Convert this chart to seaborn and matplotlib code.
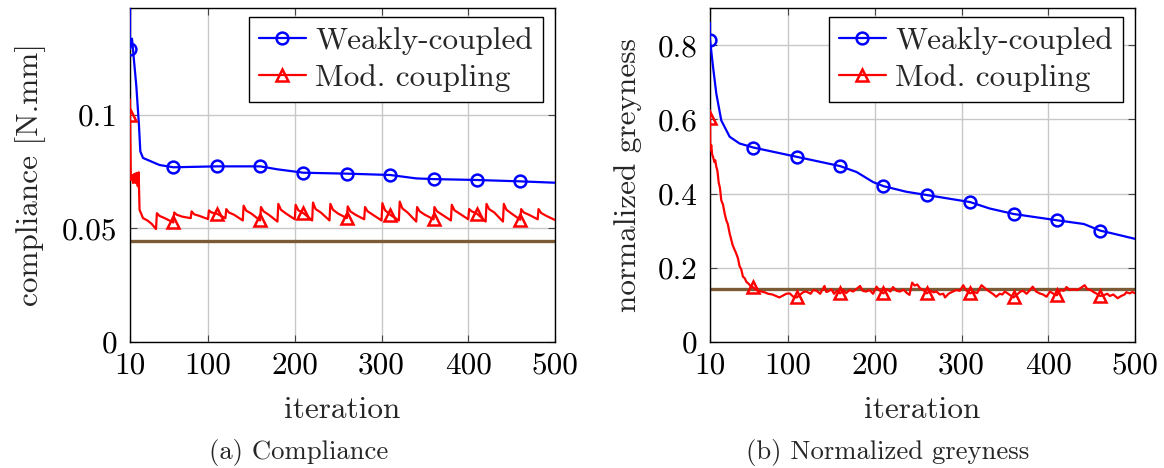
import numpy as np
import pandas as pd
import matplotlib
matplotlib.use("Agg")
import matplotlib.pyplot as plt
from matplotlib.lines import Line2D
import seaborn as sns

# ---------------- data ----------------
x_ticks = [10, 100, 200, 300, 400, 500]
mark_iters = [10, 60, 110, 160, 210, 260, 310, 360, 410, 460]

# (a) compliance
comp_weak_iter = [10, 10, 12.3, 17.3, 20.4, 21.9, 25, 44, 60, 110, 160, 180, 210, 260, 310, 340, 360, 410, 460, 500]
comp_weak_val = [0.160, 0.129, 0.1335, 0.1126, 0.0949, 0.0839, 0.0810, 0.0779, 0.0769, 0.0773, 0.0773, 0.0760,
                 0.0745, 0.0741, 0.0735, 0.0720, 0.0717, 0.0713, 0.0707, 0.0701]

comp_mod_iter = [10, 10, 11, 12.5, 13.5, 15, 16, 17.3, 18.5, 19.2, 20, 21, 25, 30, 35, 40,
                 41, 44, 50, 60, 61, 64, 70, 80, 81, 84, 90, 100, 101, 104, 110, 120, 121, 124, 130, 140,
                 141, 144, 150, 160, 161, 164, 170, 180, 181, 184, 190, 200, 201, 204, 210, 220, 221, 224, 230, 240,
                 241, 244, 250, 260, 261, 264, 270, 280, 281, 284, 290, 300, 301, 304, 310, 320, 321, 324, 330, 340,
                 341, 344, 350, 360, 361, 364, 370, 380, 381, 384, 390, 400, 401, 404, 410, 420, 421, 424, 430, 440,
                 441, 444, 450, 460, 461, 464, 470, 480, 481, 484, 490, 500]
comp_mod_val = [0.1067, 0.100, 0.0714, 0.0735, 0.0700, 0.0740, 0.0700, 0.0744, 0.0690, 0.0685, 0.0747, 0.0582,
                0.0545, 0.0535, 0.0520, 0.0497,
                0.0567, 0.0555, 0.0545, 0.0526, 0.0570, 0.0560, 0.0552, 0.0545, 0.0575, 0.0562, 0.0555, 0.0541,
                0.0579, 0.0570, 0.0565, 0.0545, 0.0585, 0.0570, 0.0560, 0.0535,
                0.0600, 0.0578, 0.0565, 0.0535, 0.0594, 0.0575, 0.0560, 0.0530, 0.0608, 0.0582, 0.0565, 0.0540,
                0.0604, 0.0580, 0.0567, 0.0535, 0.0614, 0.0585, 0.0570, 0.0535,
                0.0608, 0.0582, 0.0565, 0.0545, 0.0597, 0.0575, 0.0560, 0.0540, 0.0594, 0.0575, 0.0560, 0.0535,
                0.0611, 0.0580, 0.0560, 0.0535, 0.0618, 0.0588, 0.0570, 0.0530,
                0.0594, 0.0575, 0.0560, 0.0540, 0.0594, 0.0575, 0.0560, 0.0535, 0.0604, 0.0580, 0.0565, 0.0540,
                0.0585, 0.0575, 0.0565, 0.0530, 0.0608, 0.0585, 0.0570, 0.0530,
                0.0608, 0.0582, 0.0565, 0.0538, 0.0585, 0.0570, 0.0560, 0.0540, 0.0585, 0.0568, 0.0555, 0.0537]
comp_reference = 0.0444

# (b) normalized greyness
grey_weak_iter = [10, 10, 13.5, 17.3, 23, 32.7, 44, 60, 110, 160, 179, 198, 210, 236, 260, 310, 332, 360, 410,
                  441, 460, 475, 500]
grey_weak_val = [0.860, 0.815, 0.741, 0.669, 0.597, 0.553, 0.535, 0.524, 0.499, 0.474, 0.458, 0.431, 0.420,
                 0.405, 0.396, 0.377, 0.360, 0.345, 0.328, 0.318, 0.300, 0.292, 0.278]

grey_mod_iter = [10, 10, 10.3, 11.5, 12.5, 13.5, 15, 16, 17.3, 18.5, 20, 21.5, 23, 25, 27, 28.8, 30.5, 32.7,
                 34.5, 36, 38.4, 40, 42.3, 44, 46, 48, 50, 52, 54, 57.6, 60,
                 62, 65, 69, 73, 77, 82, 86, 90, 94, 98, 102, 106, 110, 114, 118, 121, 126, 129, 133, 137,
                 142, 144, 146, 150, 153, 156, 160, 164, 167, 171, 175, 179, 183, 186, 190, 194, 198, 202,
                 205, 210, 214, 218, 221, 225, 229, 233, 237, 240, 243, 246, 249, 252, 256, 260, 264, 268,
                 271, 275, 279, 281, 285, 290, 294, 298, 302, 305, 310, 314, 318, 323, 327, 332, 336, 340,
                 344, 347, 350, 355, 360, 364, 368, 371, 375, 379, 382, 386, 390, 394, 398, 402, 406, 410,
                 414, 418, 421, 425, 429, 433, 437, 442, 445, 449, 452, 456, 460, 464, 468, 471, 475, 480,
                 484, 488, 490, 494, 497, 500]
grey_mod_val = [0.624, 0.604, 0.517, 0.530, 0.505, 0.499, 0.485, 0.490, 0.472, 0.462, 0.430, 0.415, 0.382,
                0.370, 0.345, 0.328, 0.318, 0.292, 0.275, 0.262, 0.248, 0.240, 0.225, 0.205, 0.196, 0.176,
                0.172, 0.162, 0.158, 0.149, 0.147,
                0.142, 0.138, 0.136, 0.134, 0.130, 0.128, 0.124, 0.120, 0.125, 0.130, 0.131, 0.122, 0.120,
                0.128, 0.135, 0.136, 0.130, 0.140, 0.138, 0.130,
                0.151, 0.135, 0.136, 0.142, 0.130, 0.138, 0.131, 0.140, 0.132, 0.140, 0.136, 0.143, 0.151,
                0.138, 0.136, 0.140, 0.130, 0.149,
                0.140, 0.131, 0.142, 0.136, 0.148, 0.138, 0.136, 0.141, 0.132, 0.127, 0.160, 0.152, 0.155,
                0.145, 0.140, 0.131, 0.138, 0.134,
                0.136, 0.128, 0.130, 0.120, 0.130, 0.136, 0.140, 0.138, 0.153, 0.140, 0.131, 0.135, 0.132,
                0.153, 0.145, 0.136, 0.130, 0.122,
                0.130, 0.128, 0.136, 0.128, 0.120, 0.128, 0.136, 0.138, 0.130, 0.140, 0.149, 0.136, 0.131,
                0.128, 0.122, 0.136, 0.130, 0.126,
                0.140, 0.138, 0.148, 0.140, 0.142, 0.140, 0.145, 0.153, 0.142, 0.140, 0.135, 0.130, 0.124,
                0.126, 0.130, 0.124, 0.128, 0.118,
                0.124, 0.128, 0.134, 0.131, 0.135, 0.131]
grey_reference = 0.142

series_names = ["Weakly-coupled", "Mod. coupling"]

# ---------------- style ----------------
sns.set_theme(style="white")
plt.rcParams.update({
    "font.family": "serif",
    "font.serif": ["cmr10", "DejaVu Serif"],
    "mathtext.fontset": "cm",
    "axes.formatter.use_mathtext": True,
    "axes.unicode_minus": False,
})

BLUE = "#0000ff"
RED = "#ff0000"
BROWN = "#7d5a36"
FS = 22.5
LW = 1.6
MS = 8.5
MEW = 1.8

fig = plt.figure(figsize=(11.64, 4.68), dpi=100)
W, H = 1164.0, 468.0
ax1 = fig.add_axes([130 / W, (H - 342) / H, 425 / W, 334 / H])
ax2 = fig.add_axes([710 / W, (H - 342) / H, 425 / W, 334 / H])


def mark_idx(iters):
    idx = []
    for m in mark_iters:
        cands = [i for i, v in enumerate(iters) if v == m]
        if cands:
            idx.append(cands[-1])
    return idx


def draw(ax, w_it, w_val, m_it, m_val, ref, ymax, yticks, ylabels, ylabel, ylab_x):
    ax.axhline(ref, color=BROWN, lw=2.4, zorder=2)
    dw = pd.DataFrame({"iteration": w_it, "value": w_val})
    dm = pd.DataFrame({"iteration": m_it, "value": m_val})
    sns.lineplot(data=dw, x="iteration", y="value", ax=ax, estimator=None, sort=False,
                 color=BLUE, lw=LW, marker="o", markevery=mark_idx(w_it), markersize=MS,
                 markerfacecolor="none", markeredgecolor=BLUE, markeredgewidth=MEW, zorder=3)
    sns.lineplot(data=dm, x="iteration", y="value", ax=ax, estimator=None, sort=False,
                 color=RED, lw=LW, marker="^", markevery=mark_idx(m_it), markersize=MS,
                 markerfacecolor="none", markeredgecolor=RED, markeredgewidth=MEW, zorder=3)
    ax.set_xlim(10, 500)
    ax.set_ylim(0, ymax)
    ax.set_xticks(x_ticks)
    ax.set_xticklabels([str(t) for t in x_ticks])
    ax.set_yticks(yticks)
    ax.set_yticklabels(ylabels)
    ax.grid(True, color="#c8c8c8", lw=1.0)
    ax.set_axisbelow(True)
    for s in ax.spines.values():
        s.set_color("black")
        s.set_linewidth(1.0)
        s.set_visible(True)
    ax.tick_params(axis="both", which="major", direction="in", length=5, width=0.8,
                   color="#444444", labelsize=FS, top=True, right=True, bottom=True, left=True,
                   labelcolor="black")
    ax.tick_params(axis="x", pad=7)
    ax.tick_params(axis="y", pad=9)
    ax.set_xlabel("iteration", fontsize=FS)
    ax.set_ylabel(ylabel, fontsize=FS)
    ax.xaxis.label.set_va("center")
    ax.yaxis.label.set_va("center")
    ax.xaxis.set_label_coords(0.5, -0.204)
    ax.yaxis.set_label_coords(ylab_x, 0.5)
    handles = [Line2D([], [], color=BLUE, lw=LW, marker="o", markersize=MS, markerfacecolor="none",
                      markeredgewidth=MEW),
               Line2D([], [], color=RED, lw=LW, marker="^", markersize=MS, markerfacecolor="none",
                      markeredgewidth=MEW)]
    leg = ax.legend(handles, series_names, loc="upper right", bbox_to_anchor=(1 - 12 / 425, 1 - 9 / 334),
                    borderaxespad=0, fontsize=FS, frameon=True, fancybox=False, framealpha=1,
                    edgecolor="black", handlelength=1.5, handletextpad=0.3, labelspacing=0.3,
                    borderpad=0.32)
    leg.get_frame().set_linewidth(1.0)


draw(ax1, comp_weak_iter, comp_weak_val, comp_mod_iter, comp_mod_val, comp_reference,
     0.147, [0, 0.05, 0.1], ["0", "0.05", "0.1"], "compliance [N.mm]", -0.235)
draw(ax2, grey_weak_iter, grey_weak_val, grey_mod_iter, grey_mod_val, grey_reference,
     0.9, [0, 0.2, 0.4, 0.6, 0.8], ["0", "0.2", "0.4", "0.6", "0.8"], "normalized greyness", -0.193)

fig.text(299 / W, 1 - 452 / H, "(a) Compliance", ha="center", va="center", fontsize=19.2)
fig.text(888 / W, 1 - 452 / H, "(b) Normalized greyness", ha="center", va="center", fontsize=19.2)

fig.savefig("out.png", dpi=100)
